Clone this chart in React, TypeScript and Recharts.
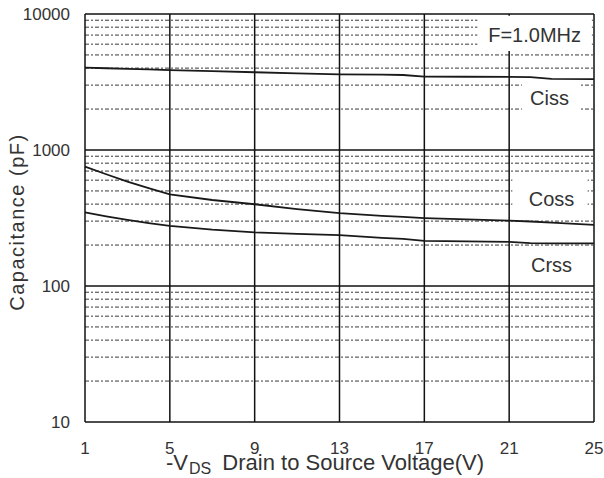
import React from "react";
import {
  LineChart,
  Line,
  XAxis,
  YAxis,
  ReferenceLine,
  ReferenceArea,
  ReferenceDot,
} from "recharts";

const voltage = [1, 2, 3, 4, 5, 7, 9, 11, 13, 15, 16, 17, 19, 21, 22, 23, 25];
const ciss = [4030, 3990, 3950, 3910, 3870, 3800, 3730, 3660, 3600, 3580, 3560, 3460, 3455, 3450, 3440, 3330, 3320];
const coss = [754, 663, 585, 525, 472, 429, 399, 368, 344, 328, 322, 316, 309, 302, 298, 292, 281];
const crss = [348, 325, 306, 290, 277, 260, 248, 242, 237, 226, 222, 215, 213, 211, 207, 206, 206];

const xTicks = [1, 5, 9, 13, 17, 21, 25];
const yTicks = [10, 100, 1000, 10000];
const majorY = [100, 1000, 10000];
const majorX = [5, 9, 13, 17, 21, 25];
const minorY = [
  20, 30, 40, 50, 60, 70, 80, 90,
  200, 300, 400, 500, 600, 700, 800, 900,
  2000, 3000, 4000, 5000, 6000, 7000, 8000, 9000,
];

const data = voltage.map((v, i) => ({ v, ciss: ciss[i], coss: coss[i], crss: crss[i] }));

const FONT = "'Liberation Sans', Arial, sans-serif";
const INK = "#333";

const XTitle = (props: any) => {
  const { x, y } = props.viewBox;
  return (
    <text x={x + 81} y={y + 48} fontSize={22} fill={INK} fontFamily={FONT}>
      -V
      <tspan fontSize={16} dx={1} dy={4}>DS</tspan>
      <tspan dx={5} dy={-4}>{" Drain to Source Voltage(V)"}</tspan>
    </text>
  );
};

const YTitle = (props: any) => {
  const { x, y } = props.viewBox;
  const cx = x + 17;
  const cy = y + 208;
  return (
    <text
      x={cx}
      y={cy}
      transform={`rotate(-90 ${cx} ${cy})`}
      textAnchor="middle"
      dominantBaseline="central"
      fontSize={20}
      letterSpacing={1.5}
      fill={INK}
      fontFamily={FONT}
    >
      Capacitance (pF)
    </text>
  );
};

const note = (value: string) => ({
  value,
  position: "center" as const,
  fontSize: 20,
  fill: INK,
  fontFamily: FONT,
});

export default function App() {
  return (
    <div style={{ width: 604, height: 478, background: "#fff" }}>
      <style>{"body{margin:0}"}</style>
      <LineChart
        width={604}
        height={478}
        data={data}
        margin={{ top: 14, right: 10, bottom: 0, left: 0 }}
        style={{ fontFamily: FONT }}
      >
        <XAxis
          dataKey="v"
          type="number"
          domain={[1, 25]}
          ticks={xTicks}
          interval={0}
          height={56}
          tickLine={false}
          tickSize={6}
          tickMargin={14}
          axisLine={{ stroke: "#111", strokeWidth: 1.5 }}
          tick={{ fontSize: 17, fill: INK, fontFamily: FONT }}
          label={{ content: XTitle }}
        />
        <YAxis
          type="number"
          scale="log"
          domain={[10, 10000]}
          allowDataOverflow
          ticks={yTicks}
          interval={0}
          width={85}
          tickLine={false}
          tickSize={6}
          tickMargin={9}
          axisLine={{ stroke: "#111", strokeWidth: 1.5 }}
          tick={{ fontSize: 17, fill: INK, fontFamily: FONT }}
          label={{ content: YTitle }}
        />

        {minorY.map((v) => (
          <ReferenceLine key={`m${v}`} y={v} stroke="#3a3a3a" strokeWidth={1} strokeDasharray="4 2 2 2" zIndex={50} />
        ))}
        {majorY.map((v) => (
          <ReferenceLine key={`y${v}`} y={v} stroke="#111" strokeWidth={1.5} zIndex={50} />
        ))}
        {majorX.map((v) => (
          <ReferenceLine key={`x${v}`} x={v} stroke="#111" strokeWidth={1.5} zIndex={50} />
        ))}

        <ReferenceArea x1={19.5} x2={24.9} y1={5350} y2={9700} fill="#fff" fillOpacity={1} stroke="none" zIndex={60} />
        <ReferenceArea x1={21.6} x2={24.3} y1={1190} y2={3160} fill="#fff" fillOpacity={1} stroke="none" zIndex={60} />
        <ReferenceArea x1={21.15} x2={24.7} y1={350} y2={665} fill="#fff" fillOpacity={1} stroke="none" zIndex={60} />

        <ReferenceDot x={22.2} y={7010} r={0} stroke="none" fill="none" label={note("F=1.0MHz")} />
        <ReferenceDot x={22.9} y={2410} r={0} stroke="none" fill="none" label={note("Ciss")} />
        <ReferenceDot x={23.0} y={436} r={0} stroke="none" fill="none" label={note("Coss")} />
        <ReferenceDot x={23.0} y={143} r={0} stroke="none" fill="none" label={note("Crss")} />

        <Line dataKey="ciss" type="linear" stroke="#1a1a1a" strokeWidth={1.8} dot={false} isAnimationActive={false} />
        <Line dataKey="coss" type="linear" stroke="#1a1a1a" strokeWidth={1.8} dot={false} isAnimationActive={false} />
        <Line dataKey="crss" type="linear" stroke="#1a1a1a" strokeWidth={1.8} dot={false} isAnimationActive={false} />
      </LineChart>
    </div>
  );
}
